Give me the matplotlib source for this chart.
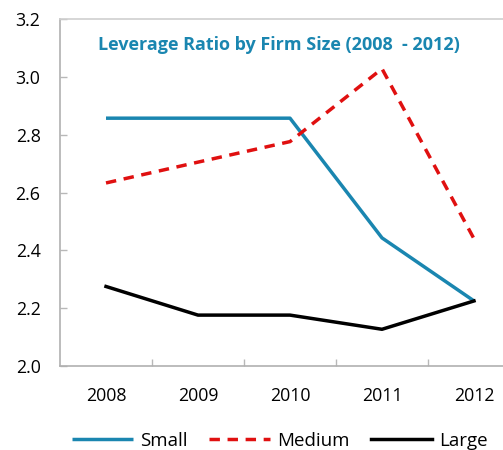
import matplotlib
matplotlib.use("Agg")
import matplotlib.pyplot as plt
import numpy as np

years = ["2008", "2009", "2010", "2011", "2012"]
small = [2.857, 2.857, 2.857, 2.443, 2.225]
medium = [2.633, 2.705, 2.776, 3.028, 2.440]
large = [2.275, 2.176, 2.176, 2.127, 2.225]

plt.rcParams['font.family'] = ['Open Sans', 'DejaVu Sans']

fig = plt.figure(figsize=(5.03, 4.50), dpi=100)
ax = fig.add_axes([60 / 503, 1 - 366 / 450, 460 / 503, (366 - 19) / 450])

x = np.arange(len(years))
ax.plot(x, small, color="#1a86b0", lw=2.5, label="Small", solid_capstyle="butt")
ax.plot(x, medium, color="#e01010", lw=2.5, ls=(0, (3, 2.2)), label="Medium")
ax.plot(x, large, color="#000000", lw=2.5, label="Large")

ax.set_xlim(-0.5, 4.5)
ax.set_ylim(2.0, 3.2)
yt = np.arange(2.0, 3.21, 0.2)
ax.set_yticks(yt)
ax.set_yticklabels([f"{v:.1f}" for v in yt], fontsize=12.8)

ax.set_xticks(x)
ax.set_xticklabels(years, fontsize=12.8)
ax.set_xticks(np.arange(0.5, 4.0, 1.0), minor=True)
ax.tick_params(axis="x", which="major", length=0, pad=15)
ax.tick_params(axis="x", which="minor", direction="in", length=5, color="#b8b8b8", width=1)
ax.tick_params(axis="y", direction="in", length=5, color="#b8b8b8", width=1, pad=14)

for side in ["left", "bottom", "top"]:
    ax.spines[side].set_color("#b0b0b0")
    ax.spines[side].set_linewidth(1.2)
ax.spines["top"].set_color("#d0d0d0")
ax.spines["right"].set_visible(False)

ax.text(0.475, 0.925, "Leverage Ratio by Firm Size (2008  - 2012)",
        transform=ax.transAxes, ha="center", va="center",
        fontsize=13, fontweight="bold", color="#1a86b0")

fig.legend(loc="center", bbox_to_anchor=(280 / 503, 1 - 441 / 450), ncol=3,
           frameon=False, fontsize=13.5, handlelength=3.25, handletextpad=0.38,
           columnspacing=1.15)

fig.savefig("out.png", dpi=100)
